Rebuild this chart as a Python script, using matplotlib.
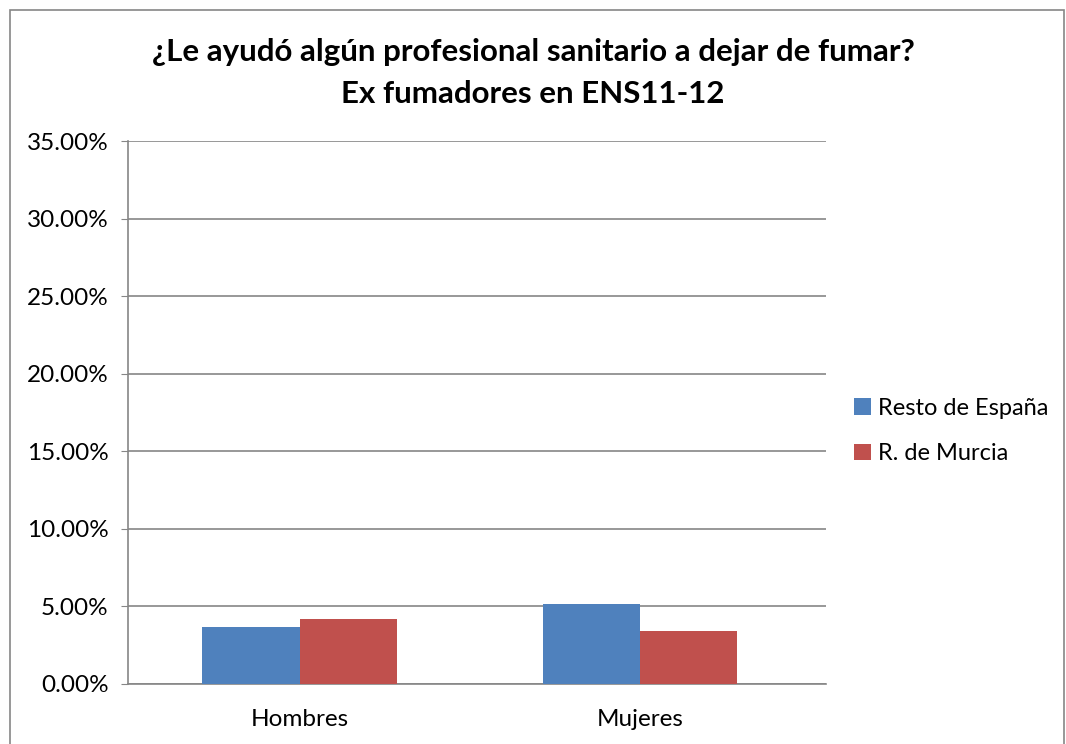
import matplotlib
matplotlib.use("Agg")
import matplotlib.pyplot as plt
import matplotlib.patches as patches
import numpy as np

# datos
categorias = ["Hombres", "Mujeres"]
resto_espana = [3.67, 5.13]
murcia = [4.19, 3.42]
series = ["Resto de España", "R. de Murcia"]
colores = ["#4F81BD", "#C0504D"]

plt.rcParams['font.family'] = ['Lato', 'DejaVu Sans']

fig = plt.figure(figsize=(10.66, 7.44), dpi=100)
ax = fig.add_axes([128/1066, 1 - 684/744, 698/1066, 543/744])

x = np.arange(len(categorias))
w = 0.286
ax.bar(x - w/2, resto_espana, w, color=colores[0], label=series[0], zorder=3)
ax.bar(x + w/2, murcia, w, color=colores[1], label=series[1], zorder=3)

ax.set_xlim(-0.504, 1.546)
ax.set_ylim(0, 35)
ax.set_yticks(np.arange(0, 36, 5))
ax.set_yticklabels([f"{v:.2f}%" for v in np.arange(0, 36, 5)], fontsize=17.5)
ax.set_xticks(x)
ax.set_xticklabels(categorias, fontsize=17.5)
ax.yaxis.grid(True, color="#868686", linewidth=1.2, zorder=0)
ax.tick_params(axis='x', length=0, pad=18)
ax.tick_params(axis='y', length=5, color="#868686", pad=9)
for s in ["top", "right"]:
    ax.spines[s].set_visible(False)
ax.spines["left"].set_color("#868686")
ax.spines["bottom"].set_color("#868686")
ax.spines["left"].set_linewidth(1.2)
ax.spines["bottom"].set_linewidth(1.2)

fig.text(0.5, 1 - 73/744, "¿Le ayudó algún profesional sanitario a dejar de fumar?\nEx fumadores en ENS11-12",
         ha="center", va="center", fontsize=22.5, fontweight="bold", linespacing=1.65)

ax.legend(loc="center left", bbox_to_anchor=(1.01, 0.466), frameon=False, fontsize=17,
          handlelength=0.7, handleheight=0.7, handletextpad=0.3, labelspacing=1.05)

# borde del gráfico
fig.patches.append(patches.Rectangle((10/1066, -0.01), 1054/1066, 1 - 10/744 + 0.01,
                                     transform=fig.transFigure, fill=False,
                                     edgecolor="#868686", linewidth=1.2))

fig.savefig("out.png", dpi=100)
